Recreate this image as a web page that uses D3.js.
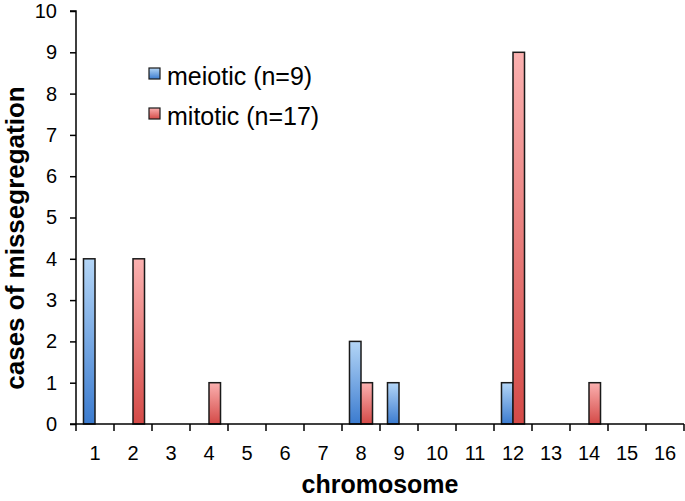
<!DOCTYPE html>
<html><head><meta charset="utf-8">
<script src="https://cdn.jsdelivr.net/npm/d3@7"></script>
<style>body{margin:0;background:#fff}svg{display:block}text{font-family:"Liberation Sans",Arial,Helvetica,sans-serif}</style>
</head><body>
<svg id="c" width="685" height="501"></svg>
<script>
const chromosomes = ["1","2","3","4","5","6","7","8","9","10","11","12","13","14","15","16"];
const meiotic = [4,0,0,0,0,0,0,2,1,0,0,1,0,0,0,0];
const mitotic = [0,4,0,1,0,0,0,1,0,0,0,9,0,1,0,0];
const seriesNames = ["meiotic (n=9)","mitotic (n=17)"];
const yTicks = [0,1,2,3,4,5,6,7,8,9,10];

const svg = d3.select("#c");
const W=685,H=501, m={l:76,r:1,t:11,b:77};
const x = d3.scaleBand().domain(chromosomes).range([m.l,W-m.r]).paddingInner(0).paddingOuter(0);
const y = d3.scaleLinear().domain([0,10]).range([H-m.b,m.t]);
const sub = d3.scaleBand().domain([0,1]).range([0,x.bandwidth()]).paddingInner(0).paddingOuter(0.65);

const defs = svg.append("defs");
const grads = [["gb","#b4d6f7","#3b7bcf"],["gr","#fbb1b0","#d44a47"]];
grads.forEach(([id,c1,c2])=>{
  const g=defs.append("linearGradient").attr("id",id).attr("x1",0).attr("y1",0).attr("x2",0).attr("y2",1);
  g.append("stop").attr("offset","0%").attr("stop-color",c1);
  g.append("stop").attr("offset","100%").attr("stop-color",c2);
});

const series=[meiotic,mitotic];
series.forEach((vals,si)=>{
  svg.append("g").selectAll("rect").data(chromosomes.map((c,i)=>({c,v:vals[i]})).filter(d=>d.v>0))
    .join("rect")
    .attr("x",d=>x(d.c)+sub(si))
    .attr("width",sub.bandwidth())
    .attr("y",d=>y(d.v))
    .attr("height",d=>y(0)-y(d.v))
    .attr("fill",`url(#${grads[si][0]})`)
    .attr("stroke","#1a1a1a").attr("stroke-width",1.5);
});

// y axis
const ya = svg.append("g").attr("transform",`translate(${m.l},0)`)
  .call(d3.axisLeft(y).tickValues(yTicks).tickSize(6).tickPadding(13).tickFormat(d3.format("d")));
ya.select(".domain").attr("stroke","#000").attr("stroke-width",1.5).attr("d",`M-6,${y(10)}H0V${y(0)}`);
ya.selectAll(".tick line").attr("stroke","#000").attr("stroke-width",1.5);
ya.selectAll(".tick text").attr("font-size",20).attr("fill","#000").attr("font-family","Liberation Sans, Arial, sans-serif");

// x axis
const xa = svg.append("g").attr("transform",`translate(0,${y(0)})`)
  .call(d3.axisBottom(x).tickSize(0).tickPadding(22));
xa.select(".domain").attr("stroke","#000").attr("stroke-width",1.5).attr("d",`M${m.l-6},0H${W-m.r}`);
xa.selectAll(".tick text").attr("font-size",20).attr("fill","#000").attr("font-family","Liberation Sans, Arial, sans-serif");
svg.append("g").selectAll("line").data(d3.range(chromosomes.length+1))
  .join("line")
  .attr("x1",i=>m.l+x.bandwidth()*i).attr("x2",i=>m.l+x.bandwidth()*i)
  .attr("y1",y(0)).attr("y2",y(0)+7).attr("stroke","#000").attr("stroke-width",1.5);

// titles
svg.append("text").attr("x",380).attr("y",493).attr("text-anchor","middle")
  .attr("font-size",25).attr("font-weight","bold").text("chromosome");
svg.append("text").attr("transform",`translate(24,238) rotate(-90)`).attr("text-anchor","middle")
  .attr("font-size",26).attr("font-weight","bold").text("cases of missegregation");

// legend
const lg = svg.append("g");
seriesNames.forEach((n,i)=>{
  const yy = 68 + i*40;
  lg.append("rect").attr("x",149).attr("y",yy).attr("width",11).attr("height",11)
    .attr("fill",`url(#${grads[i][0]})`).attr("stroke","#1a1a1a").attr("stroke-width",1.2);
  lg.append("text").attr("x",167).attr("y",yy+17).attr("font-size",25).attr("fill","#000").text(n);
});
</script>
</body></html>
